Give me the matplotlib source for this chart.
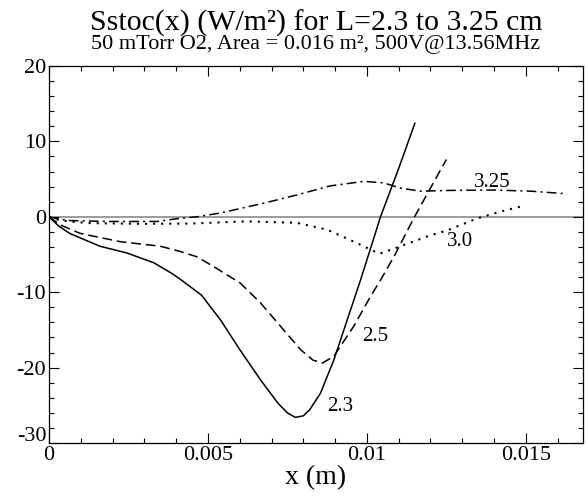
import matplotlib
matplotlib.use('Agg')
import matplotlib.pyplot as plt
from matplotlib.ticker import MultipleLocator

# ── data ──
x_23 = [0, 0.0003, 0.00065, 0.0016, 0.00245, 0.0033, 0.0039, 0.0042, 0.0048,
        0.0054, 0.0060, 0.00665, 0.0072, 0.0075, 0.00775, 0.0080, 0.0082,
        0.00854, 0.00896, 0.00938, 0.0098, 0.01043, 0.0110, 0.01151]
y_23 = [0, -1.2, -2.2, -3.9, -4.8, -6.1, -7.6, -8.5, -10.4,
        -13.7, -17.6, -21.6, -24.7, -26.0, -26.6, -26.4, -25.6,
        -23.4, -19.0, -13.7, -8.4, 0.0, 6.4, 12.4]

x_25 = [0, 0.00035, 0.00098, 0.00224, 0.0035, 0.00413, 0.00465, 0.00518,
        0.00602, 0.00665, 0.00728, 0.00791, 0.0083, 0.0086, 0.00896, 0.00959,
        0.01011, 0.01043, 0.01085, 0.0115, 0.0125]
y_25 = [0, -1.06, -2.2, -3.3, -3.9, -4.6, -5.3, -6.6,
        -8.8, -11.4, -14.5, -17.6, -19.0, -19.4, -18.5, -14.5,
        -10.6, -8.4, -5.3, 0.0, 7.6]

x_30 = [0, 0.0003, 0.0006, 0.00129, 0.00287, 0.00444, 0.00623, 0.0078,
        0.00875, 0.00959, 0.0104, 0.01106, 0.0119, 0.01253, 0.01348, 0.01421,
        0.01494]
y_30 = [0, -0.4, -0.6, -0.84, -0.93, -0.9, -0.6, -0.8,
        -1.7, -3.3, -4.9, -3.9, -2.6, -1.8, -0.2, 0.7,
        1.46]

x_325 = [0, 0.0003, 0.00067, 0.00182, 0.0034, 0.00413, 0.00465, 0.00539,
         0.00675, 0.0078, 0.00885, 0.0099, 0.01053, 0.01106, 0.01169, 0.01263,
         0.014, 0.01515, 0.0163]
y_325 = [0, -0.3, -0.5, -0.62, -0.62, -0.2, 0.0, 0.5,
         1.8, 2.9, 4.1, 4.7, 4.5, 3.8, 3.4, 3.5,
         3.55, 3.4, 3.05]

labels = ['2.3', '2.5', '3.0', '3.25']
label_x = [0.00875, 0.00985, 0.01253, 0.01337]
label_y = [-25.2, -15.9, -3.3, 4.5]

y_ticks = [-30, -20, -10, 0, 10, 20]

plt.rcParams.update({
    'font.family': ['Liberation Serif', 'DejaVu Serif'],
    'axes.unicode_minus': False,
    'lines.scale_dashes': False,
})

fig = plt.figure(figsize=(5.87, 4.97), dpi=100)
ax = fig.add_axes([49 / 587, 1 - 443 / 497, (583 - 49) / 587, (443 - 66) / 497])

lw = 1.1
ax.axhline(0, color='#8a8a8a', linewidth=1.2, zorder=1)
ax.plot(x_23, y_23, color='black', linewidth=lw, linestyle='-')
ax.plot(x_25, y_25, color='black', linewidth=lw, linestyle=(0, (7, 3.5)))
ax.plot(x_30, y_30, color='black', linewidth=1.5, linestyle=(0, (1.5, 4.3)))
ax.plot(x_325, y_325, color='black', linewidth=lw, linestyle=(0, (7, 3, 1.5, 3)))

for t, lx, ly in zip(labels, label_x, label_y):
    ax.text(lx, ly, t, fontsize=15, ha='left', va='center')

ax.set_xlim(0, 0.0168)
ax.set_ylim(-30, 20)
ax.xaxis.set_minor_locator(MultipleLocator(0.001))
ax.yaxis.set_minor_locator(MultipleLocator(2))
ax.set_xticks([0, 0.005, 0.01, 0.015])
ax.set_xticklabels(['0', '0.005', '0.01', '0.015'])
ax.set_yticks(y_ticks)
# bottom label drawn separately, lifted a little so it clears the x "0"
ax.set_yticklabels([''] + [str(v) for v in y_ticks[1:]])
ax.annotate(str(y_ticks[0]), xy=(0, y_ticks[0]), xycoords=('axes fraction', 'data'),
            xytext=(-2, 5), textcoords='offset points',
            ha='right', va='center', fontsize=16)

ax.tick_params(which='both', direction='in', top=True, right=True,
               labelsize=16, width=0.8)
ax.tick_params(which='major', length=7, pad=2)
ax.tick_params(which='minor', length=3.5)
for s in ax.spines.values():
    s.set_linewidth(0.9)

ax.set_xlabel('x (m)', fontsize=20, labelpad=0)

fig.text(316 / 587, 1 - 23 / 497, 'Sstoc(x) (W/m²) for L=2.3 to 3.25 cm',
         fontsize=21.5, ha='center', va='center')
fig.text(316 / 587, 1 - 45 / 497, '50 mTorr O2, Area = 0.016 m², 500V@13.56MHz',
         fontsize=16, ha='center', va='center')

fig.savefig('out.png', dpi=100, facecolor='white')
